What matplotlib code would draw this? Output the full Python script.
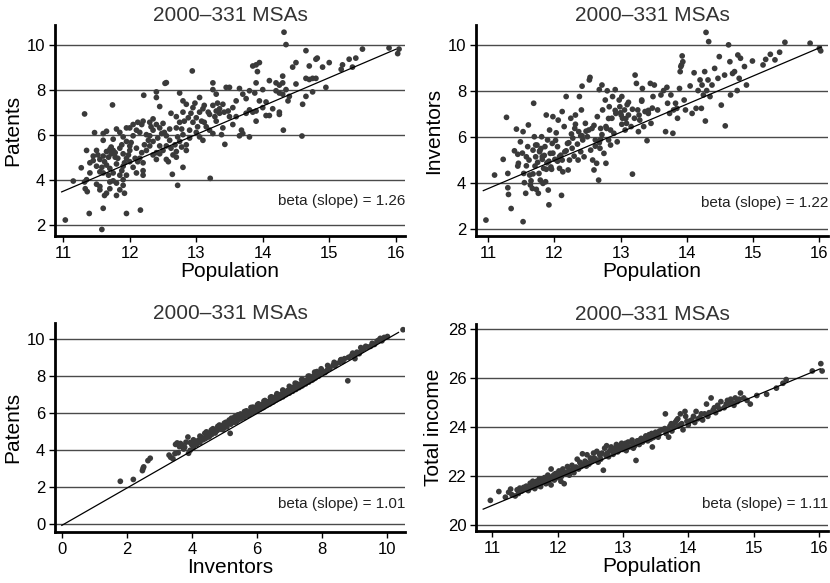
import matplotlib
matplotlib.use("Agg")
import matplotlib.pyplot as plt
import matplotlib.transforms as mtransforms

plt.rcParams['font.family'] = ['Liberation Sans', 'DejaVu Sans']

# ---------------- data ----------------
titles = ["2000\u2013331 MSAs"] * 4
xlabels = ["Population", "Population", "Inventors", "Population"]
ylabels = ["Patents", "Inventors", "Patents", "Total income"]
betas = [1.26, 1.22, 1.01, 1.11]
intercepts = [-10.37, -9.66, -0.09, 8.607]
fit_x_range = [(10.975, 16.0), (10.93, 16.03), (0.0, 10.36), (10.86, 16.02)]
xticks = [[11, 12, 13, 14, 15, 16], [11, 12, 13, 14, 15, 16],
          [0, 2, 4, 6, 8, 10], [11, 12, 13, 14, 15, 16]]
yticks = [[2, 4, 6, 8, 10], [2, 4, 6, 8, 10], [0, 2, 4, 6, 8, 10],
          [20, 22, 24, 26, 28]]

pop_patents = [
    (11.03, 2.21), (11.58, 1.79), (11.39, 2.50), (11.60, 2.73), (11.95, 2.50), (12.16, 2.65),
    (11.32, 6.92), (11.15, 3.94), (11.27, 4.53), (11.32, 3.90), (11.36, 3.47), (11.33, 3.60),
    (11.47, 6.09), (11.74, 7.32), (12.21, 7.75), (12.94, 8.83), (12.55, 8.31), (12.53, 8.28),
    (13.21, 4.06), (12.72, 3.75), (12.64, 4.24), (13.43, 5.57),
    (14.32, 10.55), (14.35, 10.00), (14.65, 9.73), (14.31, 6.20), (14.59, 5.94), (14.60, 7.35),
    (15.90, 9.85), (16.05, 9.80), (16.03, 9.60), (15.50, 9.80), (15.40, 9.40), (15.30, 9.35),
    (15.35, 9.00), (15.20, 9.10), (15.18, 8.90), (15.00, 9.20), (14.95, 8.10), (14.90, 9.00),
    (14.80, 9.35), (14.82, 9.40), (14.70, 9.05), (14.50, 9.20), (14.45, 9.00), (14.50, 8.25),
    (14.75, 8.50), (14.70, 8.45), (14.80, 8.50), (14.75, 7.90), (14.65, 7.70), (14.65, 8.50),
    (14.40, 7.70), (14.38, 7.50), (14.30, 8.60), (14.30, 8.30), (14.25, 8.20), (14.20, 7.95),
    (14.25, 7.85), (14.30, 7.80), (14.20, 8.30), (14.35, 8.00), (14.10, 8.40), (14.25, 7.00),
    (14.25, 6.90), (14.15, 7.15), (14.05, 7.45), (14.00, 8.00), (14.05, 6.85), (13.90, 6.60),
    (13.95, 9.20), (13.90, 9.10), (13.85, 9.05), (13.92, 8.80), (13.90, 8.30), (13.88, 7.85),
    (13.80, 7.95), (13.75, 7.60), (13.80, 7.10), (13.85, 7.00), (13.90, 7.05), (13.65, 8.05),
    (13.70, 7.80), (13.60, 7.50), (13.68, 6.20), (13.70, 6.05), (13.65, 5.95), (13.80, 5.90),
    (13.50, 6.80), (13.55, 7.20), (13.45, 8.10), (13.50, 8.10), (13.40, 7.35), (13.35, 7.15),
    (13.30, 7.05), (13.35, 6.95), (13.40, 6.30), (13.38, 6.00), (13.30, 6.60), (13.25, 6.05),
    (13.20, 6.20), (13.15, 6.35), (13.25, 8.30), (13.25, 8.00), (13.30, 7.80), (13.25, 7.30),
    (13.20, 6.90), (13.10, 7.15), (13.05, 7.65), (13.05, 7.00), (13.00, 6.75), (12.95, 6.55),
    (13.00, 6.10), (13.05, 5.90), (13.10, 5.75), (12.90, 6.20), (12.85, 5.55), (12.90, 5.85),
    (12.85, 7.35), (12.80, 7.50), (12.75, 7.85), (12.80, 7.00), (12.70, 6.80), (12.75, 6.55),
    (12.70, 6.30), (12.80, 6.00), (12.75, 5.70), (12.70, 5.25), (12.65, 5.10), (12.70, 5.00),
    (12.80, 4.55), (12.78, 5.45), (12.85, 5.30), (12.60, 6.25), (12.55, 5.95), (12.60, 5.75),
    (12.55, 5.50), (12.50, 5.30), (12.45, 5.15), (12.55, 4.90), (12.58, 4.80), (12.50, 6.50),
    (12.45, 6.30), (12.40, 7.90), (12.40, 7.65), (12.45, 7.25), (12.35, 6.70), (12.40, 6.45),
    (12.30, 6.55), (12.35, 6.20), (12.30, 5.95), (12.35, 5.70), (12.30, 5.50), (12.25, 5.30),
    (12.35, 5.10), (12.40, 4.90), (12.40, 5.20), (12.45, 5.50), (12.20, 6.60), (12.18, 6.45),
    (12.12, 6.55), (12.15, 6.10), (12.10, 6.20), (12.05, 6.45), (12.05, 5.95), (12.00, 6.30),
    (11.95, 6.30), (12.10, 5.40), (12.15, 4.95), (12.20, 4.75), (12.20, 4.40), (12.20, 4.20),
    (12.10, 4.30), (12.05, 4.55), (12.00, 4.80), (11.95, 4.95), (12.00, 5.30), (12.00, 5.50),
    (11.95, 5.70), (11.90, 5.90), (11.88, 5.55), (11.85, 5.40), (11.90, 5.15), (11.90, 4.60),
    (11.95, 4.20), (11.85, 4.20), (11.90, 4.00), (11.90, 3.75), (11.92, 3.40), (11.85, 3.55),
    (11.80, 3.30), (11.80, 3.85), (11.75, 3.95), (11.75, 4.30), (11.70, 4.50), (11.80, 4.70),
    (11.78, 5.00), (11.75, 5.30), (11.72, 5.15), (11.70, 5.35), (11.65, 5.25), (11.68, 5.00),
    (11.60, 5.05), (11.65, 4.65), (11.60, 4.30), (11.70, 3.90), (11.70, 3.60), (11.65, 3.40),
    (11.62, 3.30), (11.55, 3.55), (11.55, 3.70), (11.50, 3.80), (11.55, 4.35), (11.50, 4.60),
    (11.55, 4.90), (11.50, 5.30), (11.45, 4.85), (11.40, 4.75), (11.40, 4.30), (11.35, 4.00),
    (11.35, 5.30), (11.60, 6.05), (11.65, 6.15), (11.80, 6.25), (11.75, 5.80), (11.85, 6.10),
    (11.60, 5.75), (13.60, 6.80), (13.55, 6.45), (13.75, 6.95), (13.95, 7.50), (14.00, 7.20),
    (14.10, 6.85), (12.62, 6.95), (12.88, 6.75), (13.12, 6.55), (12.95, 7.20), (12.25, 6.00),
    (11.72, 5.45), (11.78, 5.20), (11.82, 4.95), (11.88, 4.40), (11.92, 4.75), (11.98, 5.10),
    (12.02, 5.65), (12.08, 4.95), (12.12, 4.80), (12.18, 5.20), (12.22, 5.55), (12.28, 5.75),
    (12.32, 6.35), (12.42, 5.85), (12.48, 6.05), (12.52, 6.10), (12.62, 5.40), (12.68, 5.55),
    (12.72, 5.90), (12.78, 6.25), (12.82, 6.60), (12.92, 6.95), (12.98, 7.40), (13.02, 6.35),
    (13.08, 6.60), (13.12, 7.30), (13.18, 7.00), (13.28, 6.80), (13.32, 7.40), (13.42, 7.00),
    (13.48, 7.05), (11.58, 4.55), (11.62, 4.80), (11.68, 4.20), (11.52, 5.10), (11.45, 5.05),
]

pop_inventors = [
    (10.97, 2.40), (11.10, 4.35), (11.23, 5.03), (11.28, 6.85), (11.30, 4.42), (11.30, 3.80),
    (11.31, 3.51), (11.35, 2.90), (11.40, 5.40), (11.43, 6.34), (11.45, 4.74), (11.46, 4.86),
    (11.49, 5.79), (11.53, 2.33), (11.53, 6.23), (11.54, 4.42), (11.55, 4.02), (11.57, 3.56),
    (11.58, 5.14), (11.60, 5.58), (11.61, 6.52), (11.63, 4.35), (11.64, 3.92), (11.67, 3.77),
    (11.68, 5.43), (11.69, 7.46), (11.70, 6.01), (11.71, 4.74), (11.72, 5.14), (11.73, 3.73),
    (11.74, 5.65), (11.76, 3.56), (11.77, 4.42), (11.78, 5.36), (11.79, 4.13), (11.81, 6.01),
    (11.82, 5.03), (11.83, 3.99), (11.84, 4.64), (11.86, 5.58), (11.87, 4.06), (11.88, 6.95),
    (11.89, 4.88), (11.90, 5.87), (11.91, 3.70), (11.92, 3.06), (11.93, 6.30), (11.94, 5.29),
    (11.96, 4.60), (11.97, 5.72), (11.98, 6.88), (12.01, 5.03), (12.03, 6.18), (12.05, 5.58),
    (12.06, 6.73), (12.08, 4.64), (12.10, 5.21), (12.11, 3.47), (12.12, 7.10), (12.13, 4.49),
    (12.15, 6.45), (12.16, 5.36), (12.18, 7.75), (12.20, 5.72), (12.21, 4.57), (12.23, 5.00),
    (12.25, 6.81), (12.26, 6.13), (12.27, 5.51), (12.30, 5.17), (12.31, 6.37), (12.32, 6.95),
    (12.35, 5.69), (12.36, 5.00), (12.37, 6.23), (12.38, 7.75), (12.40, 5.36), (12.41, 7.17),
    (12.42, 8.20), (12.43, 5.87), (12.45, 5.14), (12.47, 6.59), (12.50, 6.01), (12.53, 8.47),
    (12.54, 8.58), (12.55, 5.43), (12.57, 6.37), (12.58, 5.00), (12.60, 4.57), (12.62, 5.87),
    (12.64, 4.86), (12.65, 6.88), (12.67, 4.13), (12.68, 8.05), (12.69, 5.51), (12.70, 6.37),
    (12.72, 8.25), (12.73, 7.17), (12.75, 5.29), (12.77, 7.60), (12.78, 4.86), (12.79, 6.37),
    (12.80, 8.00), (12.82, 5.87), (12.83, 7.31), (12.85, 5.65), (12.87, 6.81), (12.88, 7.75),
    (12.90, 6.16), (12.92, 8.05), (12.93, 7.02), (12.95, 5.79), (12.99, 7.31), (13.01, 6.95),
    (13.02, 7.75), (13.03, 6.81), (13.06, 7.17), (13.07, 6.30), (13.09, 6.59), (13.12, 6.95),
    (13.16, 6.45), (13.18, 4.39), (13.21, 6.81), (13.22, 8.68), (13.24, 8.32), (13.26, 7.17),
    (13.27, 6.23), (13.29, 6.73), (13.32, 7.60), (13.33, 8.10), (13.35, 6.45), (13.37, 7.10),
    (13.40, 5.84), (13.42, 7.02), (13.45, 8.32), (13.46, 6.59), (13.49, 7.75), (13.51, 8.25),
    (13.56, 7.17), (13.61, 7.82), (13.65, 8.01), (13.68, 6.23), (13.70, 8.15), (13.71, 7.46),
    (13.74, 7.02), (13.76, 7.82), (13.79, 6.16), (13.80, 7.17), (13.83, 7.46), (13.85, 7.24),
    (13.86, 6.81), (13.89, 8.10), (13.90, 8.83), (13.91, 9.05), (13.92, 9.12), (13.94, 9.26),
    (13.93, 9.51), (13.96, 7.60), (13.98, 7.17), (14.05, 8.21), (14.08, 7.02), (14.11, 8.78),
    (14.14, 7.24), (14.17, 8.01), (14.20, 8.47), (14.22, 7.24), (14.23, 8.25), (14.25, 7.82),
    (14.27, 8.83), (14.28, 6.69), (14.29, 10.53), (14.30, 8.01), (14.32, 8.47), (14.33, 10.13),
    (14.35, 7.75), (14.38, 8.25), (14.42, 8.97), (14.47, 8.54), (14.49, 9.48), (14.52, 7.38),
    (14.58, 6.48), (14.57, 8.68), (14.63, 9.99), (14.65, 9.26), (14.66, 7.82), (14.69, 8.75),
    (14.72, 8.83), (14.76, 8.01), (14.77, 9.55), (14.79, 8.54), (14.81, 9.41), (14.87, 9.05),
    (14.90, 8.25), (14.99, 9.29), (15.15, 9.12), (15.19, 9.36), (15.26, 9.58), (15.33, 9.34),
    (15.40, 9.67), (15.48, 10.10), (15.86, 10.06), (16.00, 9.84), (16.02, 9.73),
    (11.75, 4.90), (11.85, 5.20), (11.95, 4.70), (12.05, 4.95), (11.65, 4.10), (11.80, 5.50),
    (12.40, 6.05), (12.60, 6.50), (12.85, 6.30), (13.10, 7.40), (13.00, 7.05), (12.70, 5.90),
    (11.72, 5.65), (11.78, 5.40), (11.82, 5.15), (11.88, 4.60), (11.92, 4.95), (11.98, 5.30),
    (12.02, 5.85), (12.08, 5.15), (12.12, 5.00), (12.18, 5.40), (12.22, 5.75), (12.28, 5.95),
    (12.32, 6.55), (12.42, 6.05), (12.48, 6.25), (12.52, 6.30), (12.62, 5.60), (12.68, 5.75),
    (12.72, 6.10), (12.78, 6.45), (12.82, 6.80), (12.92, 7.15), (12.98, 7.60), (13.02, 6.55),
    (13.08, 6.80), (13.12, 7.50), (13.18, 7.20), (13.28, 6.95), (13.32, 7.55), (13.42, 7.15),
    (13.48, 7.25), (11.58, 4.75), (11.62, 5.00), (11.68, 4.40), (11.52, 5.30), (11.45, 5.25),
]

inventors_patents = [
    (1.80, 2.30), (2.20, 2.40), (2.48, 2.88), (2.50, 3.00), (2.52, 3.08), (2.65, 3.42), (2.72, 3.55),
    (3.30, 3.72), (3.35, 3.60), (3.42, 3.52), (3.48, 3.80), (3.50, 4.30), (3.55, 4.38), (3.58, 3.85),
    (3.62, 4.18), (3.70, 4.25), (3.75, 4.05), (3.82, 4.42), (3.88, 4.70), (3.90, 3.82), (3.95, 3.98),
    (4.00, 4.28), (4.05, 4.15), (4.10, 4.45), (4.15, 4.30), (4.20, 4.52), (4.25, 4.40), (4.30, 4.68),
    (4.35, 4.55), (4.42, 4.62), (4.48, 4.80), (4.52, 4.70), (4.58, 4.95), (4.62, 4.85), (4.68, 5.10),
    (4.72, 4.92), (4.78, 5.05), (4.82, 5.20), (4.88, 5.12), (4.92, 5.30), (4.98, 5.18), (5.02, 5.35),
    (5.08, 5.25), (5.12, 5.48), (5.18, 4.90), (5.20, 5.40), (5.25, 5.60), (5.30, 5.50), (5.35, 5.70),
    (5.40, 5.58), (5.45, 5.80), (5.50, 5.68), (5.55, 5.88), (5.60, 5.75), (5.65, 6.00), (5.70, 5.85),
    (5.75, 6.05), (5.80, 5.95), (5.85, 6.15), (5.90, 6.05), (5.95, 6.28), (6.00, 6.12), (6.05, 6.35),
    (6.10, 6.22), (6.15, 6.45), (6.20, 6.30), (6.25, 6.55), (6.30, 6.42), (6.35, 6.62), (6.40, 6.50),
    (6.45, 6.75), (6.50, 6.60), (6.55, 6.85), (6.60, 6.72), (6.65, 6.90), (6.70, 6.80), (6.75, 7.02),
    (6.80, 6.88), (6.85, 7.10), (6.90, 7.00), (6.95, 7.22), (7.00, 7.08), (7.05, 7.30), (7.10, 7.18),
    (7.15, 7.42), (7.20, 7.28), (7.25, 7.50), (7.30, 7.38), (7.35, 7.58), (7.40, 7.48), (7.45, 7.70),
    (7.50, 7.58), (7.55, 7.80), (7.60, 7.68), (7.65, 7.92), (7.70, 7.78), (7.75, 8.02), (7.80, 7.90),
    (7.85, 8.25), (7.90, 8.00), (7.95, 8.15), (8.05, 8.20), (8.15, 8.30), (8.25, 8.42), (8.35, 8.60),
    (8.45, 8.68), (8.55, 8.75), (8.65, 8.80), (8.80, 7.75), (8.82, 9.02), (8.90, 9.10), (8.95, 9.25),
    (9.02, 8.95), (9.08, 9.30), (9.15, 9.22), (9.22, 9.40), (9.30, 9.50), (9.40, 9.58), (9.50, 9.62),
    (9.62, 9.72), (9.75, 9.95), (9.80, 10.05), (9.85, 9.92), (9.92, 10.10), (10.02, 10.15), (10.50, 10.52),
    (4.45, 4.98), (4.65, 5.15), (4.85, 5.35), (5.05, 5.50), (5.22, 5.72), (5.42, 5.90), (5.62, 6.08),
    (5.82, 6.30), (6.02, 6.45), (6.22, 6.65), (6.42, 6.85), (6.62, 7.00), (6.82, 7.20), (7.02, 7.40),
    (7.22, 7.60), (7.42, 7.80), (7.62, 8.00), (7.82, 8.10), (8.00, 8.30), (8.20, 8.50), (8.40, 8.55),
    (4.55, 4.75), (4.95, 5.10), (5.35, 5.52), (5.75, 5.90), (6.15, 6.30), (6.55, 6.70), (6.95, 7.10),
    (7.35, 7.45), (7.75, 7.85), (8.10, 8.20), (8.60, 8.90), (9.00, 9.15),
    (4.05, 4.55), (4.25, 4.75), (4.40, 4.90), (4.60, 5.08), (4.80, 5.28), (5.00, 5.45), (5.15, 5.62),
    (5.32, 5.80), (5.50, 5.95), (5.68, 6.12), (5.88, 6.32), (6.05, 6.50), (6.25, 6.68), (6.45, 6.88),
    (6.62, 7.05), (6.80, 7.25), (7.00, 7.45), (7.18, 7.62), (7.38, 7.82), (7.58, 8.00), (7.78, 8.22),
    (7.98, 8.40), (8.18, 8.58), (8.38, 8.75), (8.58, 8.88), (8.70, 8.95), (9.20, 9.55), (9.35, 9.62),
    (9.55, 9.78), (9.70, 9.90), (3.65, 4.35), (3.78, 4.15), (3.95, 4.40),
]

pop_income = [
    (10.97, 21.02), (11.10, 21.38), (11.20, 21.15), (11.25, 21.35), (11.28, 21.48), (11.30, 21.25),
    (11.35, 21.20), (11.38, 21.45), (11.42, 21.52), (11.45, 21.40), (11.50, 21.48), (11.52, 21.60),
    (11.55, 21.42), (11.58, 21.72), (11.60, 21.55), (11.62, 21.65), (11.65, 21.50), (11.68, 21.80),
    (11.70, 21.62), (11.72, 21.90), (11.75, 21.72), (11.78, 21.85), (11.80, 21.95), (11.82, 21.70),
    (11.85, 22.05), (11.88, 21.88), (11.90, 22.30), (11.90, 21.65), (11.92, 22.00), (11.95, 21.85),
    (11.98, 22.12), (12.00, 21.95), (12.02, 22.22), (12.05, 21.80), (12.05, 22.05), (12.08, 22.30),
    (12.10, 21.70), (12.12, 22.15), (12.15, 22.40), (12.18, 22.05), (12.20, 22.25), (12.22, 22.45),
    (12.25, 22.15), (12.28, 22.38), (12.30, 22.70), (12.32, 22.30), (12.35, 22.52), (12.38, 22.92),
    (12.40, 22.45), (12.42, 22.62), (12.45, 22.88), (12.48, 22.50), (12.50, 22.75), (12.52, 22.60),
    (12.55, 22.95), (12.58, 22.70), (12.60, 23.02), (12.62, 22.58), (12.65, 22.85), (12.68, 22.95),
    (12.70, 22.25), (12.72, 23.15), (12.75, 23.25), (12.78, 22.80), (12.80, 23.05), (12.82, 23.20),
    (12.85, 22.90), (12.88, 23.15), (12.90, 23.30), (12.92, 23.00), (12.95, 23.22), (12.98, 23.35),
    (13.00, 23.10), (13.02, 23.28), (13.05, 23.05), (13.08, 23.40), (13.10, 23.20), (13.15, 23.35),
    (13.18, 23.25), (13.20, 22.65), (13.22, 23.45), (13.25, 23.30), (13.28, 23.55), (13.30, 23.40),
    (13.35, 23.65), (13.38, 23.45), (13.40, 23.70), (13.42, 23.52), (13.45, 23.20), (13.48, 23.62),
    (13.50, 23.80), (13.55, 23.70), (13.60, 23.90), (13.65, 24.55), (13.68, 23.92), (13.70, 23.60),
    (13.72, 24.05), (13.75, 23.85), (13.80, 24.20), (13.82, 24.28), (13.85, 24.05), (13.88, 24.55),
    (13.90, 24.15), (13.92, 23.90), (13.95, 24.65), (13.98, 24.25), (14.00, 24.10), (14.05, 24.30),
    (14.10, 24.20), (14.12, 24.65), (14.18, 24.40), (14.22, 24.30), (14.25, 24.55), (14.28, 24.95),
    (14.30, 24.45), (14.35, 25.20), (14.38, 24.70), (14.42, 24.60), (14.45, 24.90), (14.50, 25.05),
    (14.55, 24.80), (14.60, 25.10), (14.62, 24.95), (14.65, 25.15), (14.70, 24.90), (14.75, 25.05),
    (14.80, 25.40), (14.85, 25.20), (14.90, 25.10), (14.95, 24.95), (15.05, 25.30), (15.20, 25.35),
    (15.35, 25.60), (15.45, 25.80), (15.50, 25.95), (15.90, 26.30), (16.03, 26.60), (16.05, 26.30),
    (11.62, 21.80), (11.74, 21.58), (11.86, 21.75), (11.96, 22.10), (12.06, 22.00), (12.16, 22.20),
    (12.26, 22.30), (12.36, 22.40), (12.46, 22.55), (12.56, 22.75), (12.66, 22.70), (12.76, 22.95),
    (12.86, 23.05), (12.96, 23.10), (13.06, 23.25), (13.16, 23.15), (13.26, 23.48), (13.36, 23.55),
    (13.46, 23.58), (13.56, 23.85), (13.66, 23.75), (13.78, 24.00), (13.88, 24.10), (14.02, 24.25),
    (14.15, 24.35), (14.32, 24.60), (14.48, 24.75), (14.68, 25.00), (14.78, 25.15),
    (11.40, 21.30), (11.48, 21.55), (11.56, 21.50), (11.66, 21.70), (11.76, 21.90), (11.84, 21.85),
    (11.94, 22.05), (12.04, 22.18), (12.14, 22.10), (12.24, 22.35), (12.34, 22.58), (12.44, 22.42),
    (12.54, 22.65), (12.64, 22.92), (12.74, 22.85), (12.84, 23.12), (12.94, 23.18), (13.04, 23.35),
    (13.14, 23.48), (13.24, 23.38), (13.34, 23.50), (13.44, 23.75), (13.54, 23.60), (13.64, 23.95),
    (13.74, 24.15), (13.84, 24.35), (13.96, 24.45), (14.08, 24.45), (14.20, 24.55), (14.40, 24.80),
    (14.58, 24.95), (14.72, 25.20),
]

panels = [pop_patents, pop_inventors, inventors_patents, pop_income]

# ---------------- layout ----------------
W, H = 830, 583
fig = plt.figure(figsize=(W / 100, H / 100), dpi=100)
fig.patch.set_facecolor("white")

# pixel boxes: left, top, right, bottom
boxes = [(55, 25, 405, 236), (476, 25, 828, 236), (55, 322.7, 405, 532), (476, 323.7, 828, 531)]
xlims = [(10.875, 16.14), (10.82, 16.13), (-0.21, 10.56), (10.75, 16.14)]
ylims = [(1.5, 10.87), (1.71, 10.85), (-0.45, 10.9), (19.77, 28.23)]
beta_y = [3.05, 3.14, 1.07, 20.87]

for i, pts in enumerate(panels):
    l, t, r, b = boxes[i]
    ax = fig.add_axes([l / W, (H - b) / H, (r - l) / W, (b - t) / H])
    ax.set_facecolor("white")
    ax.set_xlim(*xlims[i])
    ax.set_ylim(*ylims[i])
    for yv in yticks[i]:
        ax.axhline(yv, color="#4a4a4a", lw=1.0, zorder=1)
    xs = [p[0] for p in pts]
    ys = [p[1] for p in pts]
    ax.scatter(xs, ys, s=17, color="#3a3a3a", edgecolors="none", zorder=3)
    x0, x1 = fit_x_range[i]
    ax.plot([x0, x1], [intercepts[i] + betas[i] * x0, intercepts[i] + betas[i] * x1],
            color="black", lw=0.9, zorder=4)
    ax.set_xticks(xticks[i])
    ax.set_yticks(yticks[i])
    ax.tick_params(axis="both", direction="out", length=4, width=1, labelsize=12,
                   colors="black", pad=3)
    for side in ("top", "right"):
        ax.spines[side].set_visible(False)
    for side in ("left", "bottom"):
        ax.spines[side].set_linewidth(2)
        ax.spines[side].set_color("black")
    ax.set_xlabel(xlabels[i], fontsize=15, labelpad=1)
    ax.set_ylabel(ylabels[i], fontsize=15, labelpad=3)
    ax.set_title(titles[i], fontsize=15, color="#333333", pad=2)
    trans = mtransforms.blended_transform_factory(ax.transAxes, ax.transData)
    ax.text(1.0, beta_y[i], "beta (slope) = %.2f" % betas[i], transform=trans,
            ha="right", va="center", fontsize=11, color="#222222")

fig.savefig("out.png", dpi=100)
